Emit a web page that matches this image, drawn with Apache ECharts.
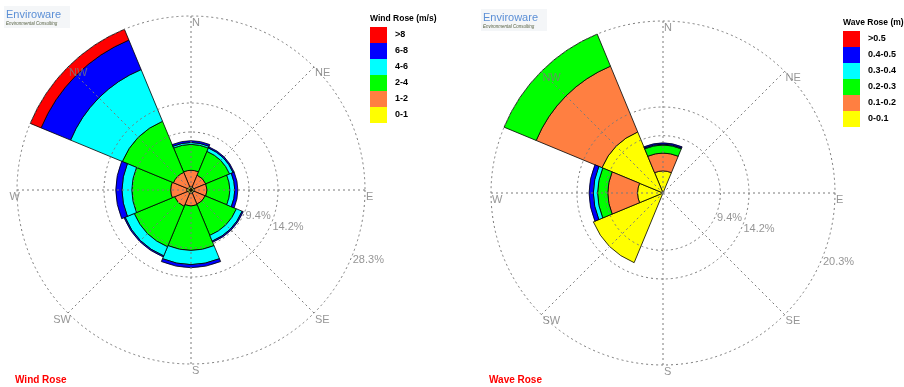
<!DOCTYPE html>
<html>
<head>
<meta charset="utf-8">
<script src="https://cdn.jsdelivr.net/npm/echarts@6/dist/echarts.min.js"></script>
<style>
  html, body { margin: 0; padding: 0; background: #fff; }
  #chart { width: 904px; height: 387px; }
</style>
</head>
<body>
<div id="chart"></div>
<script>
// Compass sectors, clockwise from north
const directions = ['N', 'NE', 'E', 'SE', 'S', 'SW', 'W', 'NW'];

// Wind rose: frequency (%) per direction for each speed class (m/s)
const windClasses = ['0-1', '1-2', '2-4', '4-6', '6-8', '>8'];
const wind0to1 = [0.6, 0.5, 0.6, 0.5, 0.6, 0.6, 0.7, 0.6];
const wind1to2 = [2.6, 2.1, 2.0, 2.0, 2.0, 2.3, 2.6, 2.5];
const wind2to4 = [4.2, 4.2, 3.7, 5.5, 7.2, 7.1, 6.3, 9.0];
const wind4to6 = [0.3, 0.6, 0.8, 1.0, 2.3, 1.6, 1.6, 9.1];
const wind6to8 = [0.3, 0.2, 0.5, 0.2, 0.5, 0.2, 1.0, 5.2];
const windOver8 = [0, 0, 0, 0, 0, 0, 0, 1.9];
const windMax = 28.3;
const windRingLabels = ['9.4%', '14.2%', '28.3%'];

// Wave rose: frequency (%) per direction for each height class (m)
const waveClasses = ['0-0.1', '0.1-0.2', '0.2-0.3', '0.3-0.4', '0.4-0.5', '>0.5'];
const wave0to01 = [2.6, 0, 0, 0, 0, 8.9, 3.0, 7.8];
const wave01to02 = [2.1, 0, 0, 0, 0, 0, 3.5, 8.4];
const wave02to03 = [0.95, 0, 0, 0, 0, 0, 1.2, 4.1];
const wave03to04 = [0.1, 0, 0, 0, 0, 0, 0.5, 0];
const wave04to05 = [0.15, 0, 0, 0, 0, 0, 0.5, 0];
const waveOver05 = [0, 0, 0, 0, 0, 0, 0, 0];
const waveMax = 20.3;
const waveRingLabels = ['9.4%', '14.2%', '20.3%'];

// Rings drawn at these fractions of the radial maximum
const ringFractions = [1 / 3, 1 / 2, 1];
const directionAngles = [0, 45, 90, 135, 180, 225, 270, 315];
const ringLabelAngle = 112.5;

const classColors = ['#ffff00', '#ff7f41', '#00ff00', '#00ffff', '#0000ff', '#ff0000'];
const FONT = '"Liberation Sans", Arial, sans-serif';
const gridLine = { color: '#7a7a7a', width: 1, type: [2, 3] };

const option = {
  animation: false,
  backgroundColor: '#fff',
  textStyle: { fontFamily: FONT },
  polar: [], angleAxis: [], radiusAxis: [], series: [], legend: [], title: [],
  graphic: []
};

function addRose(k, center, R, max, classes, values, ringLabels, rightAligned,
                 legendPos, legendTitle, caption, captionPos, logoPos) {
  const base = option.polar.length;
  const hidden = { axisLine: { show: false }, axisTick: { show: false }, axisLabel: { show: false }, splitLine: { show: false } };

  // sectors
  option.polar.push({ center: center, radius: R });
  option.angleAxis.push(Object.assign({ polarIndex: base, type: 'category', data: directions,
    startAngle: 90 + 22.5, clockwise: true, boundaryGap: true }, hidden));
  option.radiusAxis.push(Object.assign({ polarIndex: base, type: 'value', min: 0, max: max }, hidden));

  // spokes and outer ring
  option.polar.push({ center: center, radius: R });
  option.angleAxis.push({ polarIndex: base + 1, type: 'value', min: 0, max: 360, interval: 45,
    startAngle: 90, clockwise: true, z: 3,
    axisLine: { show: true, lineStyle: gridLine }, axisTick: { show: false }, axisLabel: { show: false },
    splitLine: { show: true, lineStyle: gridLine } });
  option.radiusAxis.push(Object.assign({ polarIndex: base + 1, type: 'value', min: 0, max: max }, hidden));

  // inner rings
  ringFractions.slice(0, 2).forEach((f, i) => {
    option.polar.push({ center: center, radius: R * f });
    option.angleAxis.push({ polarIndex: base + 2 + i, type: 'value', min: 0, max: 360, startAngle: 90, z: 3,
      axisLine: { show: true, lineStyle: gridLine }, axisTick: { show: false }, axisLabel: { show: false },
      splitLine: { show: false } });
    option.radiusAxis.push(Object.assign({ polarIndex: base + 2 + i, type: 'value', min: 0, max: max }, hidden));
  });

  // stacked class sectors
  classes.forEach((name, i) => {
    option.series.push({
      type: 'bar', coordinateSystem: 'polar', polarIndex: base, name: name, stack: 'rose' + k,
      barCategoryGap: '0%', z: 2,
      itemStyle: { color: classColors[i], borderColor: '#000', borderWidth: 0.8 },
      data: values[i].map(v => (v > 0 ? v : '-'))
    });
  });

  // compass labels
  option.series.push({
    type: 'scatter', coordinateSystem: 'polar', polarIndex: base + 1, symbolSize: 0, z: 4, silent: true,
    data: directionAngles.map((a, i) => {
      const item = { value: [max, a] };
      if (rightAligned.indexOf(directions[i]) >= 0) item.label = { align: 'right', position: [3, 1] };
      return item;
    }),
    label: { show: true, position: [1, 1], color: '#7a7a7a', fontSize: 11, fontFamily: FONT,
      formatter: p => directions[p.dataIndex] }
  });

  // ring value labels
  option.series.push({
    type: 'scatter', coordinateSystem: 'polar', polarIndex: base + 1, symbolSize: 0, z: 1, silent: true,
    data: ringFractions.map(f => [max * f, ringLabelAngle]),
    label: { show: true, position: [1, -2], color: '#7a7a7a', fontSize: 11, fontFamily: FONT,
      formatter: p => ringLabels[p.dataIndex] }
  });

  // legend
  option.title.push({ text: legendTitle, left: legendPos[0], top: legendPos[1] - 13, padding: 0,
    textStyle: { fontSize: 8.5, fontWeight: 'bold', color: '#000', fontFamily: FONT } });
  option.legend.push({
    data: classes.slice().reverse(), orient: 'vertical', left: legendPos[0], top: legendPos[1],
    itemWidth: 17, itemHeight: 16, itemGap: 0, icon: 'rect', padding: 0, selectedMode: false,
    itemStyle: { borderWidth: 0 },
    textStyle: { fontSize: 9, fontWeight: 'bold', color: '#000', fontFamily: FONT, padding: [0, 0, 0, 3] }
  });

  // caption
  option.title.push({ text: caption, left: captionPos[0], top: captionPos[1], padding: 0,
    textStyle: { fontSize: 10, fontWeight: 'bold', color: '#ff0000', fontFamily: FONT } });

  // company mark
  option.graphic.push({
    type: 'group', left: logoPos[0], top: logoPos[1], children: [
      { type: 'rect', shape: { x: 0, y: 0, width: 66, height: 22 }, style: { fill: '#f4f6f8' } },
      { type: 'text', x: 2, y: 3, style: { text: 'Enviroware', fontSize: 11, fill: '#5b8fd6', fontFamily: FONT } },
      { type: 'text', x: 2, y: 15, style: { text: 'Environmental Consulting', fontSize: 4.5, fontStyle: 'italic', fill: '#555f40', fontFamily: FONT } }
    ]
  });
}

addRose(0, [191, 190], 174, windMax, windClasses,
  [wind0to1, wind1to2, wind2to4, wind4to6, wind6to8, windOver8], windRingLabels, ['SW', 'W'],
  [370, 27], 'Wind Rose (m/s)', 'Wind Rose', [15, 375], [4, 6]);

addRose(1, [663, 193], 172, waveMax, waveClasses,
  [wave0to01, wave01to02, wave02to03, wave03to04, wave04to05, waveOver05], waveRingLabels, [],
  [843, 31], 'Wave Rose (m)', 'Wave Rose', [489, 375], [481, 9]);

const chart = echarts.init(document.getElementById('chart'), null, { renderer: 'canvas' });
chart.setOption(option);
</script>
</body>
</html>
